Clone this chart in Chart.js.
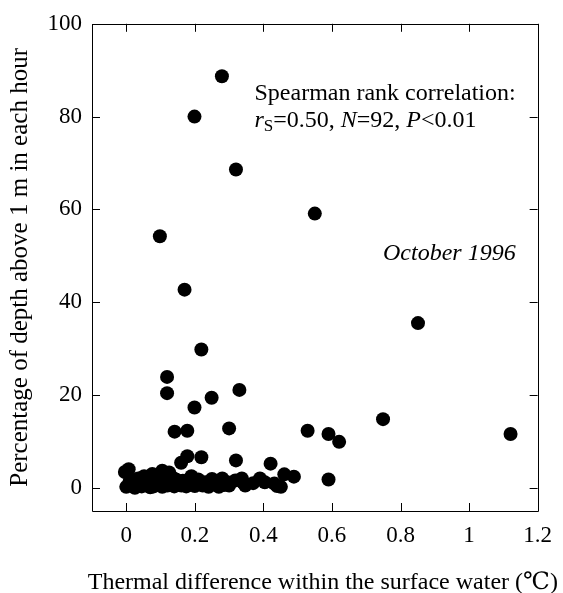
<!DOCTYPE html>
<html>
<head>
<meta charset="utf-8">
<script src="https://cdn.jsdelivr.net/npm/chart.js@4/dist/chart.umd.min.js"></script>
<style>
  html, body { margin: 0; padding: 0; background: #fff; }
  #wrap { width: 563px; height: 593px; }
</style>
</head>
<body>
<div id="wrap"><canvas id="c" width="563" height="593"></canvas></div>
<script>
// ---- Data ----
const thermalDiff = [
  0.279, 0.199, 0.320, 0.550, 0.098, 0.170, 0.851, 0.219, 0.119, 0.330,
  0.119, 0.249, 0.199, 0.749, 0.300, 0.178, 0.141, 0.529, 1.121, 0.590,
  0.621, 0.178, 0.219, 0.320, 0.421, 0.160, 0.007, -0.004, 0.105, 0.590,
  0.489, 0.461, 0.000, 0.020, 0.030, 0.045, 0.052, 0.060, 0.065, 0.076,
  0.080, 0.085, 0.090, 0.095, 0.100, 0.105, 0.110, 0.115, 0.120, 0.125,
  0.130, 0.140, 0.145, 0.155, 0.161, 0.165, 0.175, 0.180, 0.185, 0.194,
  0.200, 0.210, 0.223, 0.230, 0.242, 0.250, 0.263, 0.270, 0.280, 0.294,
  0.300, 0.318, 0.337, 0.347, 0.340, 0.390, 0.404, 0.432, 0.451, 0.440,
  0.010, 0.035, 0.070, 0.135, 0.190, 0.240, 0.285, 0.370, 0.025, 0.110,
  0.205, 0.160
];
const percentAbove1m = [
  88.7, 80.0, 68.6, 59.1, 54.2, 42.7, 35.5, 29.8, 23.9, 21.1,
  20.4, 19.4, 17.3, 14.8, 12.8, 12.3, 12.1, 12.3, 11.6, 11.6,
   9.9,  6.8,  6.6,  5.9,  5.2,  5.4,  4.0,  3.4,  3.7,  1.8,
   2.4,  2.9,  0.2,  0.5,  1.2,  0.3,  2.5,  0.8,  1.5,  3.0,
   0.3,  1.8,  0.6,  2.2,  1.0,  0.2,  2.8,  1.4,  0.5,  3.3,
   1.0,  0.3,  1.8,  0.8,  0.5,  1.5,  0.3,  1.6,  0.9,  1.2,
   0.4,  1.8,  0.5,  1.2,  0.9,  1.9,  1.2,  0.2,  2.0,  1.2,
   0.5,  1.6,  2.0,  0.5,  1.2,  2.0,  1.2,  0.9,  0.2,  0.4,
   1.5,  2.0,  0.1,  2.2,  2.5,  0.2,  0.6,  1.0,  0.0,  0.9,
   0.9,  1.0
];
const xTickValues = [0, 0.2, 0.4, 0.6, 0.8, 1, 1.2];
const yTickValues = [0, 20, 40, 60, 80, 100];
const xTitle = 'Thermal difference within the surface water (\u2103)';
const yTitle = 'Percentage of depth above 1 m in each hour';

const points = thermalDiff.map((x, i) => ({ x: x, y: percentAbove1m[i] }));

const SERIF = '"Liberation Serif", "Times New Roman", Times, "DejaVu Serif", serif';

const framePlugin = {
  id: 'frameTicks',
  afterDraw(chart) {
    const ctx = chart.ctx;
    const a = chart.chartArea;
    const xs = chart.scales.x, ys = chart.scales.y;
    const L = 8;
    ctx.save();
    ctx.strokeStyle = '#000';
    ctx.lineWidth = 1;
    ctx.beginPath();
    ctx.rect(Math.round(a.left) + 0.5, Math.round(a.top) + 0.5,
             Math.round(a.right - a.left), Math.round(a.bottom - a.top));
    ctx.stroke();
    ctx.beginPath();
    xTickValues.forEach(v => {
      const px = Math.round(xs.getPixelForValue(v)) + 0.5;
      ctx.moveTo(px, a.bottom); ctx.lineTo(px, a.bottom - L);
      ctx.moveTo(px, a.top); ctx.lineTo(px, a.top + L);
    });
    yTickValues.forEach(v => {
      const py = Math.round(ys.getPixelForValue(v)) + 0.5;
      ctx.moveTo(a.left, py); ctx.lineTo(a.left + L, py);
      ctx.moveTo(a.right, py); ctx.lineTo(a.right - L, py);
    });
    ctx.stroke();
    ctx.restore();
  }
};

const textPlugin = {
  id: 'annotText',
  afterDraw(chart) {
    const ctx = chart.ctx;
    const xs = chart.scales.x, ys = chart.scales.y;
    const a = chart.chartArea;
    ctx.save();
    ctx.fillStyle = '#000';
    ctx.textBaseline = 'alphabetic';
    ctx.textAlign = 'left';
    const x0 = xs.getPixelForValue(0.374);
    const y1 = ys.getPixelForValue(83.6);
    const y2 = y1 + 27.5;
    ctx.font = '24px ' + SERIF;
    ctx.fillText('Spearman rank correlation:', x0, y1);
    const parts = [
      { t: 'r', f: 'italic 24px ' + SERIF, dy: 0 },
      { t: 'S', f: '17px ' + SERIF, dy: 4 },
      { t: '=0.50, ', f: '24px ' + SERIF, dy: 0 },
      { t: 'N', f: 'italic 24px ' + SERIF, dy: 0 },
      { t: '=92, ', f: '24px ' + SERIF, dy: 0 },
      { t: 'P', f: 'italic 24px ' + SERIF, dy: 0 },
      { t: '<0.01', f: '24px ' + SERIF, dy: 0 }
    ];
    let cx = x0;
    parts.forEach(p => {
      ctx.font = p.f;
      ctx.fillText(p.t, cx, y2 + p.dy);
      cx += ctx.measureText(p.t).width;
    });
    ctx.font = 'italic 24px ' + SERIF;
    ctx.fillText('October 1996', xs.getPixelForValue(0.749), ys.getPixelForValue(49.1));
    // x-axis title (wider than the plot area, so drawn here without squeezing)
    ctx.font = '24px ' + SERIF;
    ctx.textAlign = 'center';
    ctx.fillText(xTitle, (a.left + a.right) / 2 + 8, a.bottom + 78);
    ctx.restore();
  }
};

new Chart(document.getElementById('c'), {
  type: 'scatter',
  data: {
    datasets: [{
      data: points,
      backgroundColor: '#000',
      borderColor: '#000',
      borderWidth: 0,
      pointRadius: 7,
      pointHoverRadius: 7
    }]
  },
  options: {
    responsive: false,
    animation: false,
    events: [],
    layout: { padding: { top: 20, right: 16, left: 0, bottom: 0 } },
    plugins: {
      legend: { display: false },
      tooltip: { enabled: false }
    },
    scales: {
      x: {
        type: 'linear',
        min: -0.1,
        max: 1.2,
        afterFit(scale) { scale.height = 82; },
        afterBuildTicks(scale) { scale.ticks = xTickValues.map(v => ({ value: v })); },
        grid: { display: false, drawTicks: false },
        border: { display: false },
        ticks: {
          padding: 11,
          color: '#000',
          font: { family: SERIF, size: 23 },
          maxRotation: 0,
          autoSkip: false,
          callback: v => String(v)
        },
        title: { display: false, text: xTitle }
      },
      y: {
        type: 'linear',
        min: -5,
        max: 100,
        afterFit(scale) { scale.width = 92; },
        afterBuildTicks(scale) { scale.ticks = yTickValues.map(v => ({ value: v })); },
        grid: { display: false, drawTicks: false },
        border: { display: false },
        ticks: {
          padding: 10,
          color: '#000',
          font: { family: SERIF, size: 23 },
          autoSkip: false,
          callback: v => String(v)
        },
        title: {
          display: true,
          text: yTitle,
          color: '#000',
          font: { family: SERIF, size: 25, lineHeight: 1.2 },
          padding: { top: 5, bottom: 0 }
        }
      }
    }
  },
  plugins: [framePlugin, textPlugin]
});
</script>
</body>
</html>
